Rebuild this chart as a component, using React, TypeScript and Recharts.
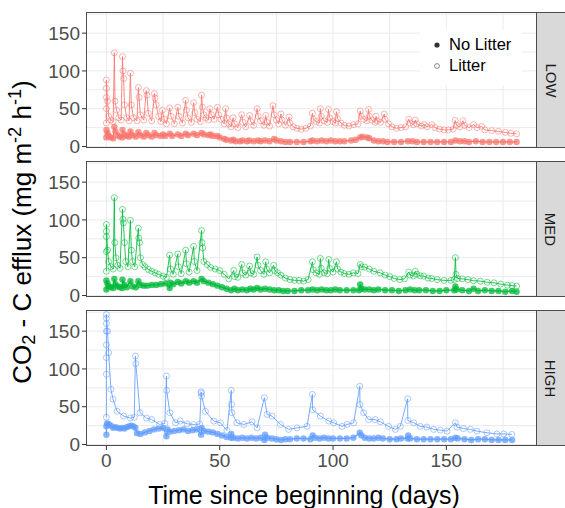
import { ScatterChart, Scatter, XAxis, YAxis, CartesianGrid } from "recharts"

// days since beginning vs CO2-C efflux (mg m-2 h-1)
const DAY_TICKS = [0, 50, 100, 150]
const FLUX_TICKS = [0, 50, 100, 150]
const GRID_DAYS = [0, 25, 50, 75, 100, 125, 150, 175]
const GRID_FLUX = [0, 25, 50, 75, 100, 125, 150, 175]

const LEVELS = ["LOW", "MED", "HIGH"]
const COLORS = ["#F8766D", "#00BA38", "#619CFF"]

const LOW_LITTER: [number, number][] = [
  [0, 31], [0, 50], [0, 65], [0, 77], [0, 88], [0.5, 60], [1, 40], [2, 35], [3, 33],
  [3.5, 124], [3.8, 60], [4.5, 48], [5.5, 38], [6.5, 35],
  [7.1, 119], [7.3, 100], [7.6, 90], [8, 55], [9, 38], [10, 34],
  [10.6, 97], [11, 55], [12, 38], [13.5, 34],
  [14.1, 78], [14.4, 65], [15, 42], [16.5, 35],
  [17.6, 74], [17.9, 68], [18.5, 44], [20, 34],
  [21.2, 70], [21.5, 64], [22, 55], [23, 40], [24, 33],
  [24.7, 48], [25.5, 36], [26.5, 30],
  [27.9, 51], [28.5, 40], [30, 30],
  [31.5, 52], [32, 40], [33.5, 31],
  [35, 61], [35.3, 48], [36, 38], [37.5, 32],
  [38.5, 58], [39, 45], [40, 36], [41.5, 33],
  [42, 68], [42.4, 52], [43, 42], [44, 38], [45, 35],
  [45.6, 50], [46.3, 42], [47.5, 36],
  [49, 52], [49.5, 42], [50.5, 36], [52, 30],
  [52.6, 50], [53, 38], [54, 30], [55, 26],
  [55.9, 38], [56.5, 30], [58, 25],
  [59.7, 42], [60.2, 32], [61.5, 26],
  [63.2, 41], [63.7, 33], [65, 28],
  [66.5, 50], [67, 40], [68, 34], [69.5, 28],
  [70.3, 41], [70.8, 32], [72, 27],
  [73.5, 54], [74, 42], [75, 35], [76, 30],
  [77, 43], [77.5, 35], [79, 28],
  [80.6, 39], [81, 31], [82.5, 26], [84, 24], [86, 23], [88, 24], [90, 27],
  [90.9, 44], [91.3, 36], [92.5, 33], [94, 31],
  [94.4, 50], [94.8, 40], [96, 34], [97.5, 32],
  [98, 49], [98.5, 38], [100, 33], [101, 31],
  [101.5, 46], [102, 37], [103.5, 31], [105, 28], [107, 27], [109, 29], [111, 30],
  [112, 47], [112.4, 40], [113.5, 36], [115, 34],
  [115.7, 49], [116, 40], [117, 35], [118.5, 32],
  [119, 40], [119.5, 34], [121, 32],
  [122.6, 43], [123, 36], [124.5, 30], [126, 26], [128, 24], [130, 25], [132, 26],
  [133.4, 36], [134, 31], [135.5, 29],
  [136.3, 35], [137, 30], [139, 27],
  [140.3, 29], [141.5, 26], [143.6, 29], [145, 25], [147, 23], [149, 22], [151, 22], [153, 23],
  [153.9, 34.5], [154.5, 28], [156, 26],
  [157.3, 34], [158, 28], [160, 25],
  [162, 29], [163.5, 25], [165.6, 26.5], [167, 22], [170, 21], [173, 20], [176, 18.6], [178.5, 17.5], [181, 16.8],
]

const LOW_NO_LITTER: [number, number][] = [
  [0, 12], [0, 22], [0.5, 18], [1, 14], [2, 12], [3, 11], [3.5, 26], [4, 20], [5, 15], [6, 13], [7, 12],
  [7.1, 22], [8, 16], [9, 14], [10, 13], [10.6, 20], [11.5, 15], [13, 13], [14.1, 19], [15, 15], [16.5, 13],
  [17.6, 18], [18.5, 15], [20, 13], [21.2, 18], [22, 15], [24, 14], [25, 16], [26, 14], [28, 17], [29, 14],
  [31.5, 16], [33, 14], [35, 17], [36, 15], [38.5, 17], [40, 15], [42, 18], [43, 16], [45, 15], [46, 16],
  [47, 14], [49, 14], [50, 12], [52, 10], [53, 9], [55, 8], [56, 9], [57, 7], [59, 7], [60, 8], [62, 7],
  [63, 8], [65, 7], [67, 8], [68, 7], [70, 8], [72, 7], [74, 10], [75, 8], [77, 7], [79, 6], [81, 6], [84, 6],
  [87, 6], [90, 7], [91, 8], [93, 7], [95, 8], [97, 7], [99, 8], [101, 7], [103, 7], [105, 7], [108, 8],
  [110, 9], [112, 12], [113, 13], [115, 12], [116, 11], [118, 8], [120, 7], [122, 7], [124, 6], [127, 6],
  [130, 6], [133, 7], [135, 7], [137, 6], [140, 6], [143, 6], [146, 6], [149, 6], [152, 6], [154, 8],
  [156, 7], [158, 7], [160, 6], [163, 7], [166, 6], [169, 6], [172, 6], [175, 6], [178, 6], [181, 6],
]

const MED_LITTER: [number, number][] = [
  [0, 32], [0, 58], [0, 78], [0, 85], [0, 94], [0.5, 60], [1, 45], [2, 38], [3, 35],
  [3.5, 129.5], [3.7, 70], [4.2, 50], [5, 40], [6, 36],
  [7.1, 114], [7.3, 101], [7.5, 96], [8, 70], [8.5, 45], [9.5, 38],
  [10.6, 99.5], [11, 60], [11.5, 45], [12.5, 38],
  [14.1, 89], [14.3, 76], [14.6, 70], [15, 50], [16, 41], [17, 38], [18.5, 34.5], [20, 32], [21.5, 30],
  [23, 28], [25, 25.6], [26.5, 24],
  [27.9, 53.5], [28.3, 35], [29.5, 28],
  [31.5, 55], [31.8, 38], [33, 29],
  [35, 60], [35.3, 42], [36.5, 31],
  [38.5, 65], [38.8, 45], [40, 33],
  [42, 86], [42.2, 70], [42.5, 63], [43, 45], [44.5, 41], [46, 37], [48, 35], [50, 33], [52, 28], [54, 22],
  [56.2, 33], [56.6, 25], [58, 24],
  [59.7, 41], [60.1, 30], [61.5, 27],
  [63.2, 39], [63.6, 30], [65, 28],
  [66.5, 51], [66.9, 40], [68, 33], [69.5, 28],
  [70.3, 44.6], [70.7, 35], [72, 30],
  [73.8, 40], [74.3, 33], [75.5, 30], [77, 27], [79, 23], [81, 21], [83, 20], [85, 20], [87, 19], [89, 21],
  [90.9, 44.6], [91.3, 34], [92.5, 30], [94, 28],
  [94.4, 49], [94.8, 36], [96, 30], [97.5, 29],
  [98.1, 47.7], [98.5, 36], [100, 31],
  [101.5, 44.6], [102, 35], [103.5, 31], [105, 29], [107, 28], [109, 30], [111, 29],
  [112, 41], [112.5, 38], [114, 37.6], [116, 35], [118, 32], [120.8, 30], [123, 27], [125, 25], [127, 22.5],
  [129.5, 21], [131.5, 22],
  [133.4, 31], [134, 27], [135.5, 26],
  [136.3, 32], [137, 28], [138.5, 26], [140, 25.6], [142, 23], [143.5, 22.5], [146, 21], [149, 20], [152, 20],
  [153.5, 21], [154, 50], [154.3, 28], [155, 22.5], [157, 22], [159.5, 21], [162, 19.5], [165, 19], [168, 17.5],
  [171, 16.8], [174, 15], [177, 13.7], [179, 13], [181, 12.4],
]

const MED_NO_LITTER: [number, number][] = [
  [0, 8], [0, 20], [0.5, 16], [1, 12], [2, 11], [3, 10], [3.5, 22], [4, 15], [5, 12], [6, 11], [7, 10],
  [7.1, 21], [8, 14], [9, 11], [10.6, 19], [11.5, 12], [13, 11], [14.1, 19], [15, 14], [16.5, 13], [18, 13],
  [20, 14], [22, 14], [24, 15], [26, 16], [27.9, 10], [28.2, 17], [29.5, 15], [31.5, 18], [33, 16], [35, 19],
  [36.5, 17], [38.5, 19], [40, 17], [42, 22], [43, 19], [45, 17], [47, 15], [49, 13], [51, 11], [53, 9],
  [55, 7], [56.5, 9], [58, 7], [60, 8], [62, 7], [63.5, 9], [65, 8], [66.5, 10], [68, 8], [70, 9], [72, 8],
  [74, 7], [76, 7], [78, 6], [80, 6], [83, 6], [86, 7], [89, 7], [91, 8], [93, 7], [95, 8], [97, 7], [99, 7],
  [101, 8], [103, 7], [106, 7], [109, 7], [111.5, 7], [112, 14.6], [112.5, 9], [114, 8], [116, 8], [118, 7],
  [120, 8], [123, 7], [126, 7], [129, 6], [132, 7], [134, 8], [136, 7], [138, 7], [141, 7], [144, 6],
  [147, 6], [150, 7], [153.5, 7], [154, 12], [154.5, 8], [157, 7], [160, 6], [162, 9], [164, 6], [167, 7],
  [170, 6], [173, 6], [176, 5], [179, 6], [181, 5],
]

const HIGH_LITTER: [number, number][] = [
  [0, 36], [0, 93], [0, 115], [0, 132], [0, 150], [0, 160], [0, 167], [0, 172], [0.5, 150], [1, 121.5],
  [2, 73], [2.9, 60], [4.7, 44], [7.6, 37.6], [10.6, 35], [12.3, 36],
  [12.8, 117], [13, 107], [14.8, 42], [17.7, 35], [20, 33], [23.5, 26.5], [25.8, 28],
  [26.5, 90.6], [26.6, 71.6], [28, 42], [30.5, 28.7], [32.6, 31], [35.6, 27.4], [38.5, 26.5], [41.2, 27],
  [41.8, 69.8], [41.9, 68], [42, 64], [43.7, 44], [47.4, 31], [50.3, 28.7], [53.2, 18.6],
  [55.1, 71.6], [55.2, 53], [55.4, 42], [57.6, 28.7], [60.6, 26.5], [64.3, 30], [66.5, 22],
  [69.7, 61.9], [70.9, 39.8], [73.1, 37.6], [76.8, 26.5], [80.4, 20], [84.1, 22], [88.5, 24],
  [90.9, 66.3], [91, 46], [94.4, 37.6], [98.1, 31], [100.3, 28.7], [104, 24], [106.2, 26.5], [109.1, 28.7],
  [111.8, 77], [111.9, 53], [113.5, 42], [115.7, 33], [118.6, 33], [120.9, 30], [124.5, 24], [127.5, 20],
  [129.7, 24], [132.9, 60.5], [133, 31.8], [135.6, 28.7], [138.5, 24], [141.4, 23], [144.4, 20], [147.3, 19],
  [150.3, 17.7], [154, 28.7], [154.7, 23], [157.6, 21], [160.6, 20], [163.5, 17.7], [167.9, 15.5],
  [172.3, 14], [175.3, 14], [178.9, 13.3],
]

const HIGH_NO_LITTER: [number, number][] = [
  [0, 13], [0, 24], [0.3, 28], [1, 27], [2, 25], [3, 22], [4, 23], [5, 22], [6, 21], [7, 22], [8, 21],
  [9, 23], [10, 24], [11, 25], [12, 24], [12.8, 22], [13.5, 15], [15, 14], [17, 16], [19, 18], [21, 20],
  [23, 21], [25, 22], [26.5, 11], [27, 20], [28, 17], [30, 18], [32, 19], [34, 20], [36, 18], [38, 19],
  [40, 20], [41.8, 13], [42, 22], [43, 18], [45, 17], [47, 16], [49, 14], [51, 12], [53, 10], [55, 9],
  [55.1, 14], [56, 9], [58, 8], [60, 9], [62, 8], [64, 9], [66, 8], [68, 9], [69.7, 6], [70, 13], [71, 9],
  [73, 8], [75, 7], [77, 6], [79, 7], [81, 7], [84, 8], [87, 8], [90, 7], [91, 12], [92, 9], [94, 8],
  [96, 9], [98, 8], [100, 8], [103, 8], [106, 8], [109, 9], [111.8, 15.5], [112.5, 12], [114, 9], [116, 8],
  [118, 8], [120, 9], [122, 8], [125, 7], [128, 7], [130, 8], [132.9, 8], [133.2, 12], [134, 8], [137, 7],
  [140, 7], [143, 7], [146, 7], [149, 7], [152, 7], [154, 9], [155, 8], [158, 7], [161, 6], [164, 7],
  [167, 7], [170, 6], [173, 6], [176, 6], [179, 6],
]

const SERIES = [
  { litter: LOW_LITTER, noLitter: LOW_NO_LITTER },
  { litter: MED_LITTER, noLitter: MED_NO_LITTER },
  { litter: HIGH_LITTER, noLitter: HIGH_NO_LITTER },
]

const FONT = "'Liberation Sans', Arial, Helvetica, sans-serif"
const PANEL_TOPS = [12, 161, 310]
const PANEL_H = 136
const PLOT_L = 86
const PLOT_R = 537

const toPoints = (arr: [number, number][]) => arr.map(([day, flux]) => ({ day, flux }))

function Panel({ idx, showX }: { idx: number; showX: boolean }) {
  const color = COLORS[idx]
  const { litter, noLitter } = SERIES[idx]
  const xH = 34
  const pad = 12 // room under the panel so the "0" label is not clipped
  return (
    <div style={{ position: "absolute", left: 0, top: PANEL_TOPS[idx] }}>
      <ScatterChart
        width={565}
        height={showX ? PANEL_H + xH : PANEL_H + pad}
        margin={{ top: 0, right: 565 - PLOT_R, bottom: showX ? 0 : pad, left: 0 }}
      >
        <CartesianGrid stroke="#ebebeb" horizontalValues={GRID_FLUX} verticalValues={GRID_DAYS} />
        <XAxis
          type="number"
          dataKey="day"
          domain={[-9, 190]}
          ticks={DAY_TICKS}
          interval={0}
          hide={!showX}
          height={xH}
          axisLine={false}
          tickSize={4}
          tickMargin={4}
          tickLine={{ stroke: "#333" }}
          tick={{ fill: "#4d4d4d", fontSize: 19 }}
        />
        <YAxis
          type="number"
          dataKey="flux"
          domain={[-2, 178]}
          ticks={FLUX_TICKS}
          interval={0}
          width={PLOT_L}
          axisLine={false}
          tickSize={4}
          tickMargin={2}
          tickLine={{ stroke: "#333" }}
          tick={{ fill: "#4d4d4d", fontSize: 19 }}
        />
        <Scatter
          data={toPoints(litter)}
          fill={color}
          line={{ stroke: color, strokeWidth: 1, strokeOpacity: 0.85 }}
          shape={(p: any) => (
            <circle cx={p.cx} cy={p.cy} r={3} fill="none" stroke={color} strokeWidth={0.9} strokeOpacity={0.6} />
          )}
          isAnimationActive={false}
        />
        <Scatter
          data={toPoints(noLitter)}
          fill={color}
          line={{ stroke: color, strokeWidth: 1.2 }}
          shape={(p: any) => <circle cx={p.cx} cy={p.cy} r={3.2} fill={color} fillOpacity={0.75} />}
          isAnimationActive={false}
        />
      </ScatterChart>
      <div
        style={{
          position: "absolute",
          left: PLOT_L,
          top: 0,
          width: PLOT_R - PLOT_L,
          height: PANEL_H,
          border: "1px solid #4d4d4d",
          boxSizing: "border-box",
          pointerEvents: "none",
        }}
      />
      <div
        style={{
          position: "absolute",
          left: PLOT_R - 1,
          top: 0,
          width: 565 - PLOT_R + 1,
          height: PANEL_H,
          background: "#d9d9d9",
          borderTop: "1px solid #4d4d4d",
          borderBottom: "1px solid #4d4d4d",
          borderLeft: "1px solid #4d4d4d",
          boxSizing: "border-box",
          display: "flex",
          alignItems: "center",
          justifyContent: "center",
        }}
      >
        <div style={{ transform: "rotate(90deg)", fontSize: 15, color: "#1a1a1a", whiteSpace: "nowrap" }}>
          {LEVELS[idx]}
        </div>
      </div>
    </div>
  )
}

export default function App() {
  return (
    <div
      style={{
        position: "absolute",
        left: 0,
        top: 0,
        width: 565,
        height: 508,
        overflow: "hidden",
        background: "#fff",
        fontFamily: FONT,
      }}
    >
      {LEVELS.map((_, i) => (
        <Panel key={i} idx={i} showX={i === LEVELS.length - 1} />
      ))}

      {/* legend inside the LOW panel */}
      <div
        style={{
          position: "absolute",
          left: 420,
          top: 30,
          width: 102,
          height: 55,
          background: "#fff",
          fontSize: 16.5,
          color: "#000",
        }}
      >
        <div style={{ position: "absolute", left: 12, top: 4, display: "flex", alignItems: "center", height: 21 }}>
          <svg width={10} height={10} style={{ marginRight: 7 }}>
            <circle cx={5} cy={5} r={2.6} fill="#333" />
          </svg>
          No Litter
        </div>
        <div style={{ position: "absolute", left: 12, top: 25, display: "flex", alignItems: "center", height: 21 }}>
          <svg width={10} height={10} style={{ marginRight: 7 }}>
            <circle cx={5} cy={5} r={2.4} fill="none" stroke="#777" strokeWidth={0.9} />
          </svg>
          Litter
        </div>
      </div>

      {/* axis titles */}
      <div
        style={{
          position: "absolute",
          left: 304,
          top: 495,
          transform: "translate(-50%, -50%)",
          fontSize: 25,
          whiteSpace: "nowrap",
          color: "#000",
        }}
      >
        Time since beginning (days)
      </div>
      <div
        style={{
          position: "absolute",
          left: 22,
          top: 232,
          transform: "translate(-50%, -50%) rotate(-90deg)",
          fontSize: 26,
          whiteSpace: "nowrap",
          color: "#000",
          lineHeight: 1,
        }}
      >
        CO<sub style={{ fontSize: "70%", verticalAlign: "-0.25em" }}>2</sub> - C efflux (mg m
        <sup style={{ fontSize: "70%", verticalAlign: "0.55em" }}>-2</sup> h
        <sup style={{ fontSize: "70%", verticalAlign: "0.55em" }}>-1</sup>)
      </div>
    </div>
  )
}
